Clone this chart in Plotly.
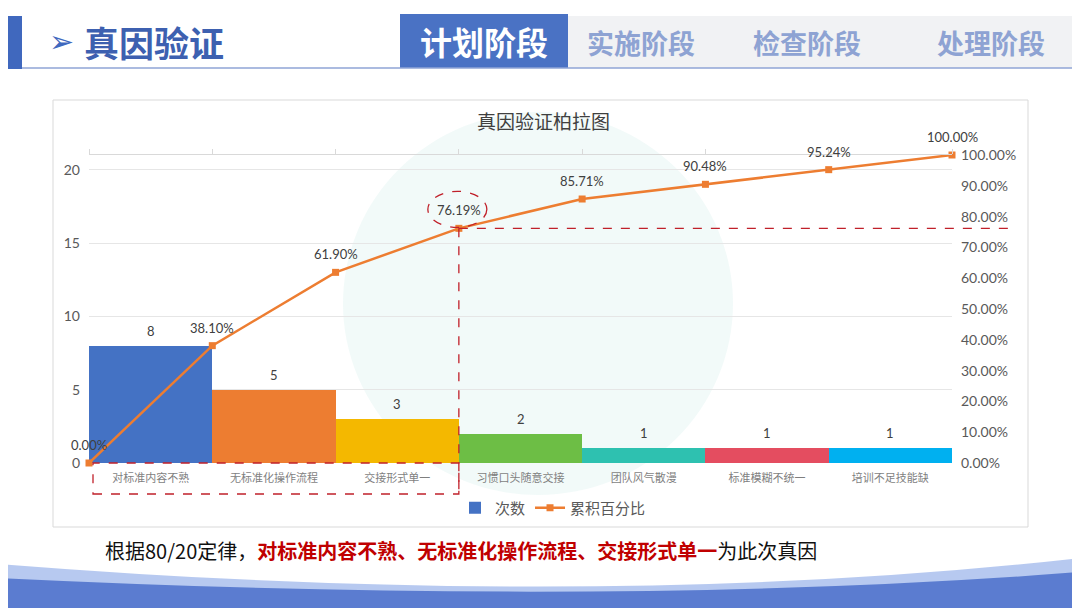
import plotly.graph_objects as go

# ---------------- data ----------------
categories = ["对标准内容不熟", "无标准化操作流程", "交接形式单一", "习惯口头随意交接",
              "团队风气散漫", "标准模糊不统一", "培训不足技能缺"]
counts = [8, 5, 3, 2, 1, 1, 1]
cum_pct = [0.00, 38.10, 61.90, 76.19, 85.71, 90.48, 95.24, 100.00]
bar_colors = ["#4472C4", "#ED7D31", "#F4B800", "#6DBE45", "#2EC1B0", "#E44D60", "#00B0F0"]
left_ticks = [0, 5, 10, 15, 20]
right_ticks = [0, 10, 20, 30, 40, 50, 60, 70, 80, 90, 100]
tabs = ["实施阶段", "检查阶段", "处理阶段"]

W, H = 1080, 608
OFF = 8                            # page body margin of the html page
L, R, T, B = 89, 952, 155, 463     # plot area in screen px


def px(x):
    return (x - L) / (R - L)


def py(y):
    return (B - y) / (B - T)


n = len(categories)
key_idx = 3  # boundary where cumulative reaches ~80%
FONT_NUM = "Lato, Noto Sans CJK SC"
FONT_CJK = "Noto Sans CJK SC"

fig = go.Figure()

fig.add_trace(go.Bar(
    x=[i + 0.5 for i in range(n)], y=counts, width=1,
    marker=dict(color=bar_colors, line=dict(width=0)),
    name="次数", cliponaxis=False,
))

fig.add_trace(go.Scatter(
    x=list(range(n + 1)), y=cum_pct, xaxis="x2", yaxis="y2",
    mode="lines+markers",
    line=dict(color="#ED7D31", width=2.5),
    marker=dict(symbol="square", size=7, color="#ED7D31"),
    name="累积百分比", cliponaxis=False,
))

shapes = []
ann = []

# data labels
for i, c in enumerate(counts):
    ann.append(dict(x=i + 0.5, y=c, xref="x", yref="y", text=str(c), showarrow=False,
                    yshift=15, xanchor="center", yanchor="middle",
                    font=dict(size=13, color="#404040", family=FONT_NUM)))
for i, v in enumerate(cum_pct):
    ann.append(dict(x=i, y=v, xref="x2", yref="y2", text=f"{v:.2f}%", showarrow=False,
                    yshift=18, xanchor="center", yanchor="middle",
                    font=dict(size=13, color="#404040", family=FONT_NUM)))

# chart frame + watermark
shapes.append(dict(type="rect", xref="paper", yref="paper", x0=px(53), x1=px(1028),
                   y0=py(527), y1=py(100), line=dict(color="#D9D9D9", width=1),
                   fillcolor="white", layer="below"))
shapes.append(dict(type="circle", xref="paper", yref="paper", x0=px(343), x1=px(733),
                   y0=py(495), y1=py(112), line=dict(width=0),
                   fillcolor="rgba(40,175,160,0.06)", layer="below"))

# header
shapes.append(dict(type="rect", xref="paper", yref="paper", x0=px(568), x1=px(1080),
                   y0=py(68), y1=py(16), line=dict(width=0), fillcolor="#F1F2F4", layer="below"))
shapes.append(dict(type="rect", xref="paper", yref="paper", x0=px(0), x1=px(22),
                   y0=py(69), y1=py(16), line=dict(width=0), fillcolor="#4068BE", layer="below"))
shapes.append(dict(type="rect", xref="paper", yref="paper", x0=px(400), x1=px(568),
                   y0=py(68), y1=py(14), line=dict(width=0), fillcolor="#4A72C4", layer="below"))
shapes.append(dict(type="line", xref="paper", yref="paper", x0=px(22), x1=px(1080),
                   y0=py(68), y1=py(68), line=dict(color="#8FA5D6", width=1.5)))

# bottom wave
shapes.append(dict(type="path", xref="paper", yref="paper", layer="below",
                   path=f"M {px(0)},{py(564)} Q {px(600)},{py(612)} {px(1080)},{py(558)} "
                        f"L {px(1080)},{py(612)} L {px(0)},{py(612)} Z",
                   fillcolor="rgba(175,195,238,0.9)", line=dict(width=0)))
shapes.append(dict(type="path", xref="paper", yref="paper", layer="below",
                   path=f"M {px(0)},{py(578)} Q {px(620)},{py(608)} {px(1080)},{py(572)} "
                        f"L {px(1080)},{py(612)} L {px(0)},{py(612)} Z",
                   fillcolor="rgba(85,120,205,0.95)", line=dict(width=0)))

# red dashed highlights
red = "#C0202A"
shapes.append(dict(type="circle", xref="x2", yref="y2", xsizemode="pixel", ysizemode="pixel",
                   xanchor=key_idx, yanchor=cum_pct[key_idx], x0=-31, x1=28, y0=1, y1=37,
                   line=dict(color=red, width=1.3, dash="dash")))
shapes.append(dict(type="line", xref="paper", yref="y2", x0=key_idx / n, x1=px(1010),
                   y0=cum_pct[key_idx], y1=cum_pct[key_idx],
                   line=dict(color=red, width=1.3, dash="dash")))
shapes.append(dict(type="line", xref="x2", yref="paper", x0=key_idx, x1=key_idx,
                   y0=cum_pct[key_idx] / 100, y1=py(494),
                   line=dict(color=red, width=1.3, dash="dash")))
shapes.append(dict(type="rect", xref="paper", yref="paper", x0=px(93), x1=key_idx / n,
                   y0=py(494), y1=0, line=dict(color=red, width=1.3, dash="dash")))

# texts
ann.append(dict(xref="paper", yref="paper", x=px(543), y=py(120), text="真因验证柏拉图",
                xanchor="center", yanchor="middle", showarrow=False,
                font=dict(size=19, color="#404040", family=FONT_CJK)))
ann.append(dict(xref="paper", yref="paper", x=px(47), y=py(41), xanchor="left", yanchor="middle",
                text="➢", showarrow=False, font=dict(size=30, color="#4068BE", family="DejaVu Sans")))
ann.append(dict(xref="paper", yref="paper", x=px(82), y=py(41), xanchor="left", yanchor="middle",
                text="<b>真因验证</b>", showarrow=False,
                font=dict(size=35, color="#3D60B0", family=FONT_CJK)))
ann.append(dict(xref="paper", yref="paper", x=px(484), y=py(41), xanchor="center", yanchor="middle",
                text="<b>计划阶段</b>", showarrow=False,
                font=dict(size=32, color="white", family=FONT_CJK)))
for cx, t in zip([641, 807, 991], tabs):
    ann.append(dict(xref="paper", yref="paper", x=px(cx), y=py(42), xanchor="center",
                    yanchor="middle", text=f"<b>{t}</b>", showarrow=False,
                    font=dict(size=27, color="#8EA3D3", family=FONT_CJK)))
ann.append(dict(xref="paper", yref="paper", x=px(103), y=py(550), xanchor="left", yanchor="middle",
                text="根据80/20定律，<b><span style='color:#C00000'>对标准内容不熟、无标准化操作流程、交接形式单一</span></b>为此次真因",
                showarrow=False, font=dict(size=20, color="#111111", family=FONT_CJK)))

fig.update_layout(
    width=W - OFF, height=H - OFF,
    margin=dict(l=L - OFF, r=W - R, t=T - OFF, b=H - B, pad=0),
    paper_bgcolor="white", plot_bgcolor="rgba(0,0,0,0)",
    font=dict(family=FONT_NUM, color="#595959"),
    showlegend=True,
    legend=dict(orientation="h", x=px(553), y=py(508), xanchor="center", yanchor="middle",
                font=dict(size=15, color="#595959", family=FONT_CJK),
                bgcolor="rgba(0,0,0,0)"),
    bargap=0,
    xaxis=dict(range=[0, n], tickvals=[i + 0.5 for i in range(n)], ticktext=categories,
               tickfont=dict(size=11, color="#7F7F7F", family=FONT_CJK),
               showgrid=False, zeroline=False, showline=False, ticks="", fixedrange=True,
               ticklabelstandoff=7),
    xaxis2=dict(range=[0, n], overlaying="x", side="top", tickvals=list(range(n + 1)),
                showticklabels=False, ticks="outside", ticklen=5, tickcolor="#D9D9D9",
                showline=True, linecolor="#D9D9D9", showgrid=False, zeroline=False),
    yaxis=dict(range=[0, sum(counts)], tickvals=left_ticks, showgrid=True, gridcolor="#E6E6E6",
               zeroline=False, tickfont=dict(size=14, color="#595959"), ticks="",
               ticklabelstandoff=8),
    yaxis2=dict(range=[0, 100], overlaying="y", side="right", tickvals=right_ticks,
                ticktext=[f"{v:.2f}%" for v in right_ticks], showgrid=False, zeroline=False,
                tickfont=dict(size=14, color="#595959"), ticks="", ticklabelstandoff=8),
    shapes=shapes, annotations=ann,
)

fig.write_html("out.html")
